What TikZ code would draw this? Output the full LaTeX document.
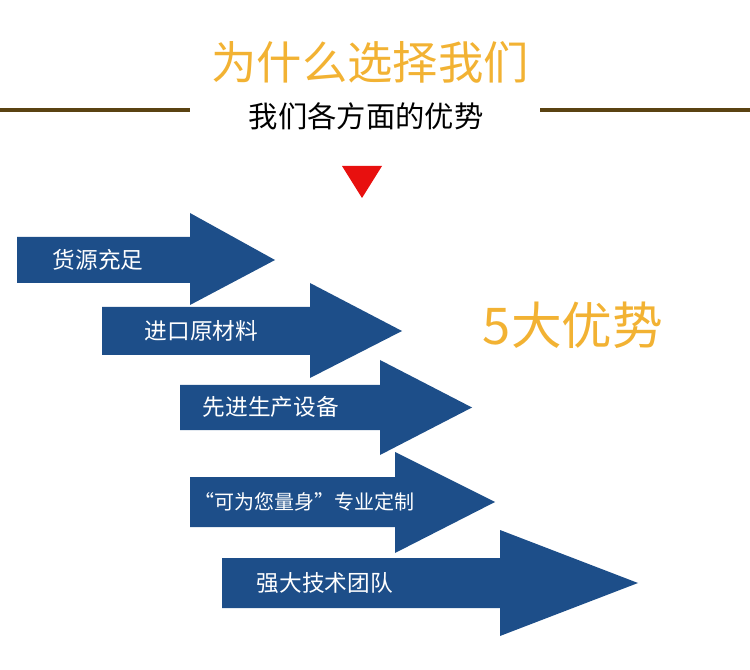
\documentclass[tikz,border=0pt]{standalone}
\usepackage{fontspec}
\newfontfamily\cjk{Noto Sans CJK SC}
\definecolor{gold}{HTML}{F2B233}
\definecolor{rulebrown}{HTML}{5A4312}
\definecolor{navy}{HTML}{1D4E89}
\definecolor{markred}{HTML}{E8100F}

\begin{document}
\begin{tikzpicture}[x=0.75pt,y=-0.75pt,
    label/.style={text=white,font=\cjk\fontsize{17}{20}\selectfont,anchor=west}]
\useasboundingbox (0,0) rectangle (750,670);

% heading
\node[text=gold,font=\cjk\fontsize{34}{40}\selectfont](title) at (370,62){为什么选择我们};
\node[font=\cjk\fontsize{22}{26}\selectfont](sub) at (366,116){我们各方面的优势};
\draw[rulebrown,line width=3pt](0,110) -- (190,110);
\draw[rulebrown,line width=3pt](540,110) -- (750,110);
\fill[markred](342,166) -- (382,166) -- (362,198) -- cycle;

% arrows: x0, body top, body bottom, head x, head top, head bottom, tip
\foreach \xa/\ya/\yb/\xh/\ht/\hb/\xt in {
    17/237/283/190/213/305/275,
    102/307/355/310/283/378/402,
    180/385/430/380/360/455/472,
    190/477/527/395/452/553/495,
    222/558/608/500/530/636/638}
{
    \fill[navy](\xa,\ya) -- (\xh,\ya) -- (\xh,\ht) -- (\xt,{(\ya+\yb)/2})
        -- (\xh,\hb) -- (\xh,\yb) -- (\xa,\yb) -- cycle;
}
\node[label](a1) at (48,260){货源充足};
\node[label](a2) at (140,331){进口原材料};
\node[label](a3) at (198,407){先进生产设备};
\node[label,font=\cjk\fontsize{15}{18}\selectfont](a4) at (190,502){“可为您量身”专业定制};
\node[label](a5) at (252,583){强大技术团队};

\node[text=gold,font=\cjk\fontsize{38}{44}\selectfont](five) at (573,325){5大优势};
\end{tikzpicture}
\end{document}
